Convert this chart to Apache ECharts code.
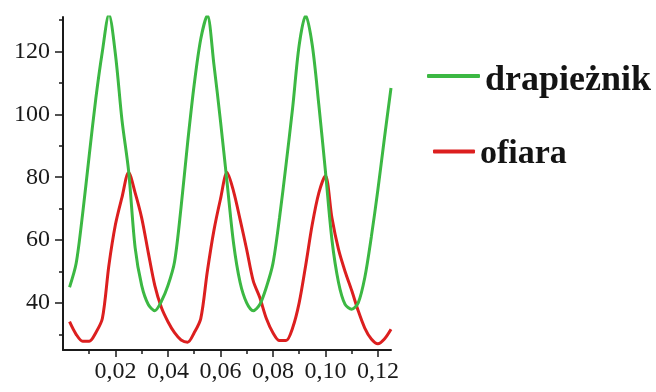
<!DOCTYPE html>
<html>
<head>
<meta charset="utf-8">
<script src="https://cdn.jsdelivr.net/npm/echarts@6/dist/echarts.min.js"></script>
<style>
  html, body { margin: 0; padding: 0; background: #fff; }
  #chart { width: 656px; height: 392px; }
</style>
</head>
<body>
<div id="chart"></div>
<script>
// Time samples (step 0.0025)
const time = [
  0.0025, 0.005, 0.0075, 0.01, 0.0125, 0.015, 0.0175, 0.02, 0.0225, 0.025,
  0.0275, 0.03, 0.0325, 0.035, 0.0375, 0.04, 0.0425, 0.045, 0.0475, 0.05,
  0.0525, 0.055, 0.0575, 0.06, 0.0625, 0.065, 0.0675, 0.07, 0.0725, 0.075,
  0.0775, 0.08, 0.0825, 0.085, 0.0875, 0.09, 0.0925, 0.095, 0.0975, 0.1,
  0.1025, 0.105, 0.1075, 0.11, 0.1125, 0.115, 0.1175, 0.12, 0.1225, 0.125
];

// Predator population
const predator = [
  45, 52.5, 68.5, 87, 105, 120, 131.8, 119, 98, 82,
  57.5, 45.5, 39.5, 37.5, 40.5, 45.5, 53, 70.5, 91, 109.5,
  124, 131.5, 116, 98, 78.5, 59, 46.5, 40, 37.5, 39.5,
  45, 52.5, 67, 84, 102, 122, 131.5, 122, 103, 82,
  60, 46.5, 39.5, 38, 40, 48, 61, 76, 92.5, 108.4
];

// Prey population
const prey = [
  34, 30, 27.8, 27.8, 30.5, 35, 52, 65, 73.7, 81.5,
  75, 67, 56, 45.5, 38.5, 34, 30.5, 28.2, 27.5, 30.5,
  35, 50, 63, 73, 81.5, 75.5, 66.5, 57, 47, 41.7,
  35, 30.5, 28, 28, 32, 40, 52, 65, 75, 80.5,
  67, 57, 50, 44, 37.5, 32, 28.5, 27, 28.5, 31.6
];

const seriesNames = ['drapieżnik', 'ofiara'];

// Axis ticks
const xMajorTicks = [0.02, 0.04, 0.06, 0.08, 0.10, 0.12];
const xTickLabels = ['0,02', '0,04', '0,06', '0,08', '0,10', '0,12'];
const xMinorTicks = [0.01, 0.03, 0.05, 0.07, 0.09, 0.11];
const yMajorTicks = [40, 60, 80, 100, 120];
const yTickLabels = ['40', '60', '80', '100', '120'];
const yMinorTicks = [30, 50, 70, 90, 110, 130];

const GREEN = '#3cb843';
const RED = '#dc1f1f';
const AXIS = '#1a1a1a';
const labelFont = { fontFamily: 'Liberation Serif', fontSize: 24, color: '#1a1a1a' };

const xRange = { min: 0, max: 0.125 };
const yRange = { min: 25, max: 131 };

const chart = echarts.init(document.getElementById('chart'), null, { renderer: 'canvas' });

// Legend labels sit a little below their line markers
const legendText = (size, padTop) => ({
  rich: {
    name: {
      fontFamily: 'Liberation Serif',
      fontWeight: 'bold',
      fontSize: size,
      color: '#141414',
      padding: [padTop, 0, 0, 0]
    }
  }
});

chart.setOption({
  backgroundColor: '#ffffff',
  animation: false,
  grid: { left: 63, top: 17, width: 328, height: 333, containLabel: false },
  legend: [
    {
      data: [seriesNames[0]], left: 427, top: 63, padding: 0,
      icon: 'roundRect', itemWidth: 53, itemHeight: 4,
      formatter: n => '{name|' + n + '}',
      textStyle: legendText(36, 10)
    },
    {
      data: [seriesNames[1]], left: 433, top: 137, padding: 0,
      icon: 'roundRect', itemWidth: 42, itemHeight: 4,
      formatter: n => '{name|' + n + '}',
      textStyle: legendText(34, 5)
    }
  ],
  xAxis: [
    {
      type: 'value', min: xRange.min, max: xRange.max, position: 'bottom',
      axisLine: { show: true, onZero: false, lineStyle: { color: AXIS, width: 2 } },
      axisTick: { show: true, length: 7, customValues: xMajorTicks, lineStyle: { color: AXIS, width: 1.5 } },
      axisLabel: {
        show: true, margin: 10, customValues: xMajorTicks, ...labelFont,
        formatter: v => xTickLabels[xMajorTicks.findIndex(t => Math.abs(t - v) < 1e-9)] ?? ''
      },
      splitLine: { show: false }
    },
    {
      type: 'value', min: xRange.min, max: xRange.max, position: 'bottom',
      axisLine: { show: false },
      axisTick: { show: true, length: 4, customValues: xMinorTicks, lineStyle: { color: AXIS, width: 1.5 } },
      axisLabel: { show: false },
      splitLine: { show: false }
    }
  ],
  yAxis: [
    {
      type: 'value', min: yRange.min, max: yRange.max, position: 'left',
      axisLine: { show: true, onZero: false, lineStyle: { color: AXIS, width: 2 } },
      axisTick: { show: true, length: 8, customValues: yMajorTicks, lineStyle: { color: AXIS, width: 1.5 } },
      axisLabel: {
        show: true, margin: 13, customValues: yMajorTicks, ...labelFont,
        formatter: v => yTickLabels[yMajorTicks.indexOf(v)] ?? ''
      },
      splitLine: { show: false }
    },
    {
      type: 'value', min: yRange.min, max: yRange.max, position: 'left',
      axisLine: { show: false },
      axisTick: { show: true, length: 4, customValues: yMinorTicks, lineStyle: { color: AXIS, width: 1.5 } },
      axisLabel: { show: false },
      splitLine: { show: false }
    }
  ],
  series: [
    {
      name: seriesNames[1], type: 'line', xAxisIndex: 0, yAxisIndex: 0,
      data: time.map((t, i) => [t, prey[i]]),
      showSymbol: false, smooth: 0.3,
      lineStyle: { color: RED, width: 3 }, itemStyle: { color: RED }
    },
    {
      name: seriesNames[0], type: 'line', xAxisIndex: 0, yAxisIndex: 0,
      data: time.map((t, i) => [t, predator[i]]),
      showSymbol: false, smooth: 0.3,
      lineStyle: { color: GREEN, width: 3 }, itemStyle: { color: GREEN }
    }
  ]
});
</script>
</body>
</html>
